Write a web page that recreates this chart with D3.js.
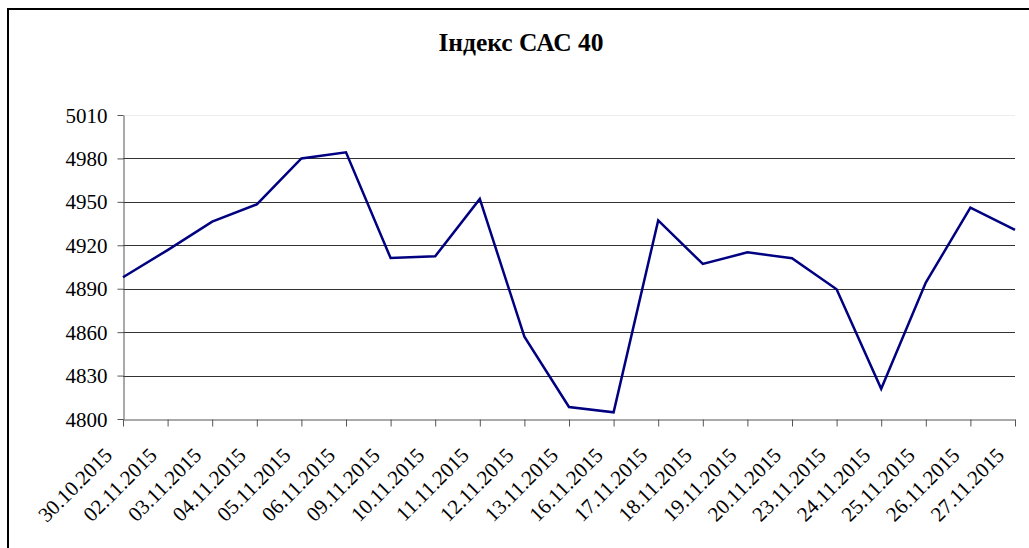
<!DOCTYPE html>
<html>
<head>
<meta charset="utf-8">
<script src="https://cdn.jsdelivr.net/npm/d3@7"></script>
<style>
  body { margin: 0; background: #fff; }
  svg { display: block; }
  text { font-family: "Liberation Serif", "Times New Roman", serif; fill: #000; }
</style>
</head>
<body>
<svg width="1029" height="548"></svg>
<script>
// chart data
var title = "Індекс САС 40";
var dates = ["30.10.2015", "02.11.2015", "03.11.2015", "04.11.2015", "05.11.2015",
             "06.11.2015", "09.11.2015", "10.11.2015", "11.11.2015", "12.11.2015",
             "13.11.2015", "16.11.2015", "17.11.2015", "18.11.2015", "19.11.2015",
             "20.11.2015", "23.11.2015", "24.11.2015", "25.11.2015", "26.11.2015",
             "27.11.2015"];
var values = [4897.9, 4916.7, 4936.3, 4948.3, 4980.0,
              4984.2, 4911.2, 4912.4, 4952.0, 4856.9,
              4808.3, 4804.6, 4937.2, 4907.1, 4915.1,
              4911.0, 4889.6, 4820.9, 4894.2, 4946.0,
              4930.6];
var yTicks = [4800, 4830, 4860, 4890, 4920, 4950, 4980, 5010];

var svg = d3.select("svg");

// outer frame (runs past right and bottom edge)
svg.append("rect")
    .attr("x", 8).attr("y", 9)
    .attr("width", 1040).attr("height", 560)
    .attr("fill", "none")
    .attr("stroke", "#000")
    .attr("stroke-width", 2);

var plotLeft = 123, plotRight = 1015, plotTop = 115, plotBottom = 419;

var x = d3.scalePoint().domain(dates).range([plotLeft, plotRight]);
var y = d3.scaleLinear().domain([4800, 5010]).range([plotBottom, plotTop]);

// gridlines
svg.append("g")
    .selectAll("line")
    .data(yTicks.slice(1))
    .enter().append("line")
    .attr("x1", plotLeft).attr("x2", plotRight)
    .attr("y1", function(d) { return Math.round(y(d)) + 0.5; })
    .attr("y2", function(d) { return Math.round(y(d)) + 0.5; })
    .attr("stroke", function(d) { return d == 5010 ? "#ececec" : "#333"; })
    .attr("stroke-width", 1);

// y axis
var yAxis = svg.append("g")
    .attr("transform", "translate(" + (plotLeft + 0.5) + ",0)")
    .call(d3.axisLeft(y).tickValues(yTicks).tickSize(6).tickSizeOuter(0).tickFormat(d3.format("d")));
yAxis.attr("font-family", null).attr("font-size", null);
yAxis.selectAll("path, line").attr("stroke", "#555");
yAxis.selectAll("text")
    .attr("x", -16)
    .attr("dy", "0.34em")
    .style("font-size", "21px");

// x axis
var xAxis = svg.append("g")
    .attr("transform", "translate(0," + (plotBottom + 0.5) + ")")
    .call(d3.axisBottom(x).tickSize(7).tickSizeOuter(0));
xAxis.attr("font-family", null).attr("font-size", null);
xAxis.selectAll("path, line").attr("stroke", "#555");
xAxis.selectAll("text")
    .attr("x", 0).attr("y", 0).attr("dy", 0)
    .attr("text-anchor", "end")
    .attr("transform", "translate(-10,37) rotate(-45)")
    .style("font-size", "21px");

// series line
var line = d3.line()
    .x(function(d, i) { return x(dates[i]); })
    .y(function(d) { return y(d); });

svg.append("path")
    .datum(values)
    .attr("fill", "none")
    .attr("stroke", "#000080")
    .attr("stroke-width", 2.5)
    .attr("stroke-linejoin", "miter")
    .attr("d", line);

// title
svg.append("text")
    .attr("x", 521).attr("y", 51)
    .attr("text-anchor", "middle")
    .style("font-size", "25.5px")
    .style("font-weight", "bold")
    .text(title);
</script>
</body>
</html>
